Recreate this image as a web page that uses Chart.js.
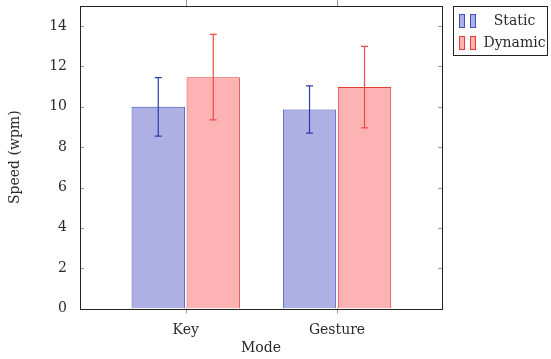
<!DOCTYPE html>
<html>
<head>
<meta charset="utf-8">
<script src="https://cdn.jsdelivr.net/npm/chart.js@4.4.0/dist/chart.umd.min.js"></script>
<style>
  html, body { margin: 0; padding: 0; background: #fff; }
  #wrap { position: relative; width: 551px; height: 359px; }
  #legend {
    position: absolute; left: 453px; top: 6px; width: 95px; height: 50px;
    border: 1px solid #222; box-sizing: border-box; background: #fff;
    font-family: "DejaVu Serif", serif; font-size: 14px; color: #2a2a2a;
  }
  .row { position: absolute; left: 0; width: 95px; height: 20px; }
  .ico { position: absolute; width: 4px; height: 12px; top: 4px; }
  .lbl { position: absolute; left: 26px; right: 0; text-align: center; top: 1px; line-height: 18px; }
</style>
</head>
<body>
<div id="wrap">
  <canvas id="chart" width="551" height="359"></canvas>
  <div id="legend"></div>
</div>
<script>
// categories & values
const categories = ["Key", "Gesture"];
const seriesNames = ["Static", "Dynamic"];
const staticSpeed = [10.0, 9.87];
const staticErr = [1.45, 1.17];
const dynamicSpeed = [11.47, 10.98];
const dynamicErr = [2.12, 2.02];
const yTicks = [0, 2, 4, 6, 8, 10, 12, 14];

const fills = ["#aeafe2", "#fdb3b3"];
const borders = ["#3f50c0", "#e53c33"];
const errColors = ["#2c3caf", "#ee4a44"];
const FONT = "DejaVu Serif";
const TEXT = "#2a2a2a";

// positions on the linear x axis (one per category)
const xPos = categories.map((c, i) => i);

// error bars + frame + ticks (pgfplots look)
const pgfPlugin = {
  id: "pgf",
  afterDatasetsDraw(chart) {
    const { ctx, chartArea: a, scales } = chart;
    const y = scales.y, x = scales.x;
    const errs = [staticErr, dynamicErr];
    const vals = [staticSpeed, dynamicSpeed];
    chart.data.datasets.forEach((ds, di) => {
      const meta = chart.getDatasetMeta(di);
      meta.data.forEach((bar, i) => {
        const hi = y.getPixelForValue(vals[di][i] + errs[di][i]);
        const lo = y.getPixelForValue(vals[di][i] - errs[di][i]);
        ctx.save();
        ctx.strokeStyle = errColors[di];
        ctx.lineWidth = 1.2;
        ctx.beginPath();
        ctx.moveTo(bar.x, hi); ctx.lineTo(bar.x, lo);
        ctx.moveTo(bar.x - 3.5, hi); ctx.lineTo(bar.x + 3.5, hi);
        ctx.moveTo(bar.x - 3.5, lo); ctx.lineTo(bar.x + 3.5, lo);
        ctx.stroke();
        ctx.restore();
      });
    });
    ctx.save();
    // ticks
    ctx.strokeStyle = "#999";
    ctx.lineWidth = 1;
    ctx.beginPath();
    yTicks.forEach((t) => {
      const py = Math.round(y.getPixelForValue(t)) + 0.5;
      ctx.moveTo(a.left, py); ctx.lineTo(a.left + 4, py);
      ctx.moveTo(a.right, py); ctx.lineTo(a.right - 4, py);
    });
    xPos.forEach((v) => {
      const px = Math.round(x.getPixelForValue(v)) + 0.5;
      ctx.moveTo(px, a.bottom); ctx.lineTo(px, a.bottom + 5);
      ctx.moveTo(px, a.top); ctx.lineTo(px, a.top - 6);
    });
    ctx.stroke();
    // frame
    ctx.strokeStyle = "#222";
    ctx.lineWidth = 1;
    ctx.strokeRect(Math.round(a.left) + 0.5, Math.round(a.top) + 0.5,
      Math.round(a.right - a.left), Math.round(a.bottom - a.top));
    ctx.restore();
  },
};

const ctx = document.getElementById("chart").getContext("2d");
new Chart(ctx, {
  type: "bar",
  data: {
    datasets: [
      {
        label: seriesNames[0],
        data: xPos.map((v, i) => ({ x: v, y: staticSpeed[i] })),
        backgroundColor: fills[0],
        borderColor: borders[0],
        borderWidth: 1,
      },
      {
        label: seriesNames[1],
        data: xPos.map((v, i) => ({ x: v, y: dynamicSpeed[i] })),
        backgroundColor: fills[1],
        borderColor: borders[1],
        borderWidth: 1,
      },
    ],
  },
  options: {
    responsive: false,
    animation: false,
    categoryPercentage: 0.727,
    barPercentage: 0.97,
    layout: { padding: { left: 0, right: 109, top: 6, bottom: 0 } },
    plugins: { legend: { display: false }, tooltip: { enabled: false } },
    scales: {
      x: {
        type: "linear",
        offset: false,
        min: -0.699,
        max: 1.694,
        grid: { display: false, offset: false },
        border: { display: false },
        afterBuildTicks: (s) => { s.ticks = xPos.map((v) => ({ value: v })); },
        afterFit: (s) => { s.height = 50.5; s.paddingLeft = 0; s.paddingRight = 0; },
        ticks: {
          padding: 5,
          color: TEXT,
          font: { family: FONT, size: 14 },
          callback: (v) => categories[v],
        },
        title: {
          display: true,
          text: "Mode",
          color: TEXT,
          font: { family: FONT, size: 14 },
          padding: { top: 0, bottom: 2.6 },
        },
      },
      y: {
        min: 0,
        max: 15,
        grid: { display: false },
        border: { display: false },
        afterBuildTicks: (s) => { s.ticks = yTicks.map((v) => ({ value: v })); },
        afterFit: (s) => { s.width = 80; s.paddingTop = 0; s.paddingBottom = 0; },
        ticks: {
          padding: 5,
          color: TEXT,
          font: { family: FONT, size: 14 },
        },
        title: {
          display: true,
          text: "Speed (wpm)",
          color: TEXT,
          font: { family: FONT, size: 14 },
          padding: { top: 6.6, bottom: 0 },
        },
      },
    },
  },
  plugins: [pgfPlugin],
});

// legend (pgfplots style: two small bars per entry)
const legend = document.getElementById("legend");
seriesNames.forEach((name, i) => {
  const row = document.createElement("div");
  row.className = "row";
  row.style.top = (i === 0 ? 3 : 25) + "px";
  [5, 16].forEach((lx) => {
    const ico = document.createElement("span");
    ico.className = "ico";
    ico.style.left = lx + "px";
    ico.style.background = fills[i];
    ico.style.border = "1px solid " + borders[i];
    row.appendChild(ico);
  });
  const lbl = document.createElement("span");
  lbl.className = "lbl";
  lbl.textContent = name;
  row.appendChild(lbl);
  legend.appendChild(row);
});
</script>
</body>
</html>
